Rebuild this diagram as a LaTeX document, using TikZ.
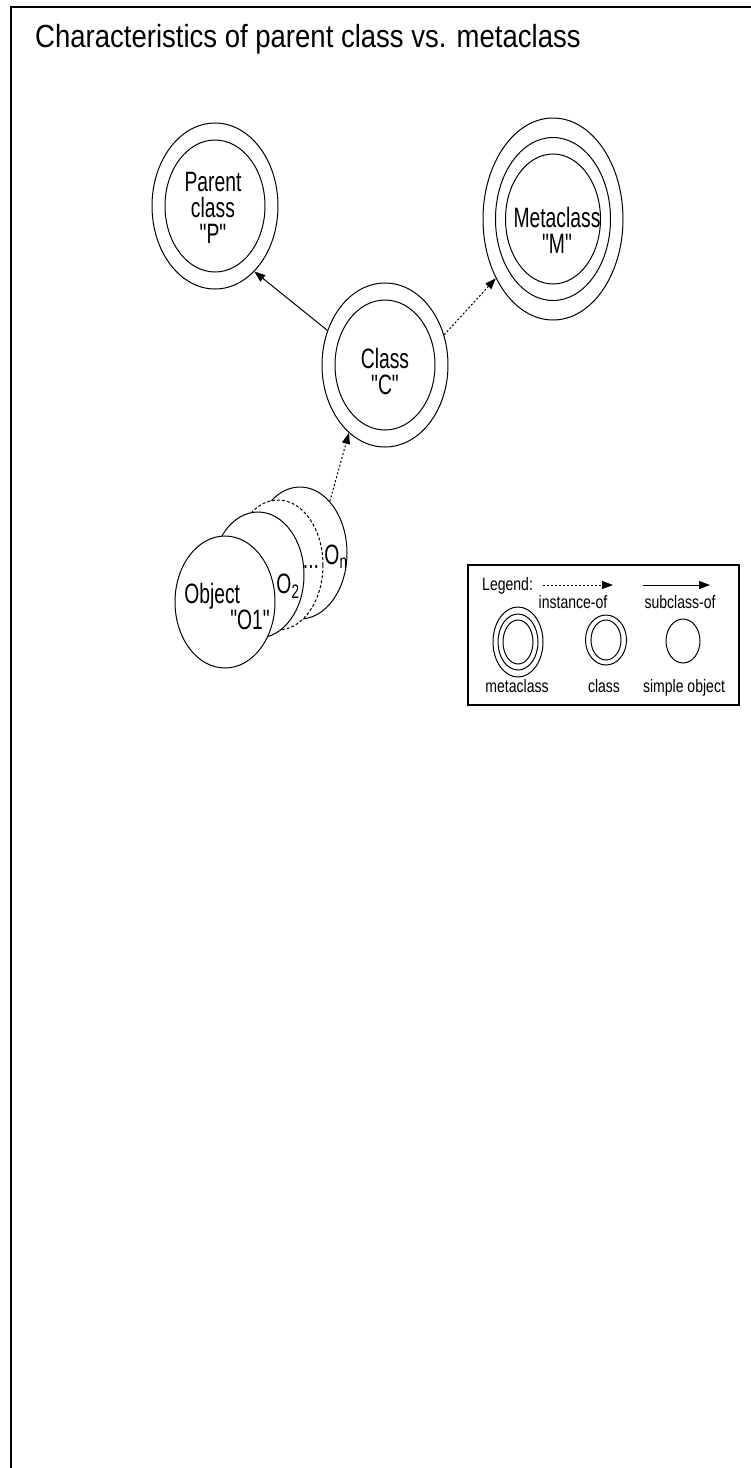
\documentclass[tikz,border=0pt]{standalone}
\usepackage{fontspec}
\usepackage{tikz}
\usetikzlibrary{shapes.geometric,arrows.meta}
\newfontfamily\headfont{Liberation Sans}[FakeStretch=0.86]
\newfontfamily\nodefont{Liberation Sans}[FakeStretch=0.69]
\newfontfamily\legfont{Liberation Sans}[FakeStretch=0.78]

\begin{document}
\begin{tikzpicture}[x=1pt,y=-1pt,
  ring/.style={ellipse,draw,line width=1pt,inner sep=0pt,fill=white},
  lab/.style={font=\nodefont\fontsize{28}{26}\selectfont,align=center},
  leglab/.style={font=\legfont\fontsize{18}{18}\selectfont},
  isa/.style={line width=1pt,-{Triangle[length=11pt,width=8pt]}},
  inst/.style={isa,dash pattern=on 2pt off 2pt}]
 \useasboundingbox (0,0) rectangle (751,1468);
 \draw[line width=2pt] (11,1468)--(11,7)--(751,7);
 \node[anchor=base west,inner sep=0pt,font=\headfont\fontsize{32}{32}\selectfont] (title) at (35,47) {Characteristics of parent class vs. metaclass};

 % parent class, class, metaclass
 \node[ring,minimum width=126pt,minimum height=166pt] (P) at (215,206) {};
 \node[ring,minimum width=100pt,minimum height=132pt] (Pin) at (P.center) {};
 \node[lab] (Ptxt) at (213,208) {Parent\\class\\"P"};

 \node[ring,minimum width=140pt,minimum height=202pt] (M) at (553,219) {};
 \node[ring,minimum width=115pt,minimum height=163pt] (Mmid) at (M.center) {};
 \node[ring,minimum width=95pt,minimum height=130pt] (Min) at (M.center) {};
 \node[lab] (Mtxt) at (557,230) {Metaclass\\"M"};

 \node[ring,minimum width=126pt,minimum height=164pt] (C) at (385,365) {};
 \node[ring,minimum width=100pt,minimum height=130pt] (Cin) at (C.center) {};
 \node[lab] (Ctxt) at (385,371) {Class\\"C"};

 % objects, back to front
 \node[ring,minimum width=94pt,minimum height=132pt] (On) at (300,553) {};
 \node[ring,dash pattern=on 3pt off 2pt,minimum width=90pt,minimum height=130pt] (Odots) at (278,565) {};
 \node[ring,minimum width=92pt,minimum height=126pt] (O2) at (258,575) {};
 \node[ring,minimum width=100pt,minimum height=132pt] (O1) at (225,602) {};
 \node[lab,align=left] (O1txt) at (227,606) {Object\\\hspace*{46pt}"O1"};
 \node[lab] (O2txt) at (288,586) {O\textsubscript{2}};
 \node[lab] (Ontxt) at (336,557) {O\textsubscript{n}};
 \node[lab] (dots) at (311,567) {...};

 \draw[isa] (C.149) -- (P.301);
 \draw[inst] (C.27) -- (M.226);
 \draw[inst] (On.60) -- (C.242);

 % legend
 \node[draw,line width=2pt,minimum width=271pt,minimum height=140pt,inner sep=0pt] (legend) at (603.5,635) {};
 \node[leglab,anchor=base west,inner sep=0pt] (legtitle) at (482,590) {Legend:};
 \coordinate (i0) at (543,585);
 \coordinate (i1) at (613,585);
 \draw[inst] (i0) -- (i1);
 \node[leglab,anchor=base,inner sep=0pt] (ilab) at (573,608) {instance-of};
 \coordinate (s0) at (643,585);
 \coordinate (s1) at (710,585);
 \draw[isa] (s0) -- (s1);
 \node[leglab,anchor=base,inner sep=0pt] (slab) at (680,608) {subclass-of};
 \node[ring,minimum width=50pt,minimum height=70pt] (lm) at (518,642) {};
 \node[ring,minimum width=40pt,minimum height=56pt] (lm2) at (lm.center) {};
 \node[ring,minimum width=30pt,minimum height=44pt] (lm3) at (lm.center) {};
 \node[ring,minimum width=41pt,minimum height=50pt] (lc) at (606,640) {};
 \node[ring,minimum width=30pt,minimum height=40pt] (lc2) at (lc.center) {};
 \node[ring,minimum width=34pt,minimum height=44pt] (lo) at (683,641) {};
 \node[leglab,anchor=base,inner sep=0pt] (lmlab) at (517,692) {metaclass};
 \node[leglab,anchor=base,inner sep=0pt] (lclab) at (604,692) {class};
 \node[leglab,anchor=base,inner sep=0pt] (lolab) at (684,692) {simple object};
\end{tikzpicture}
\end{document}
